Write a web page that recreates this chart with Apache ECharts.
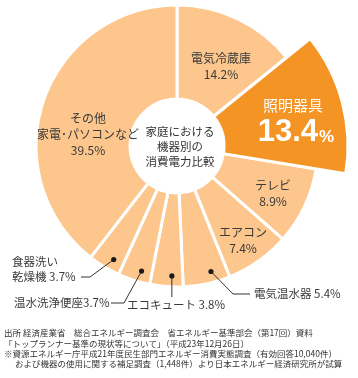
<!DOCTYPE html>
<html><head><meta charset="utf-8">
<script src="https://cdn.jsdelivr.net/npm/echarts@6/dist/echarts.min.js"></script>
<style>html,body{margin:0;padding:0;background:#fff}#c{width:358px;height:378px}</style>
</head><body><div id="c"></div>
<script>
// ---- data ----
const categories = ['電気冷蔵庫','照明器具','テレビ','エアコン','電気温水器','エコキュート','温水洗浄便座','食器洗い乾燥機','その他家電・パソコンなど'];
const values = [14.2, 13.4, 8.9, 7.4, 5.4, 3.8, 3.7, 3.7, 39.5];
const labelNames = ['電気冷蔵庫','照明器具','テレビ','エアコン','電気温水器','エコキュート','温水洗浄便座','食器洗い\n乾燥機','その他\n家電･パソコンなど'];
const highlightIndex = 1;
const centerTitle = ['家庭における','機器別の','消費電力比較'];
const footnotes = [
  '出所 経済産業省　総合エネルギー調査会　省エネルギー基準部会（第17回）資料',
  '「トップランナー基準の現状等について」（平成23年12月26日）',
  '※資源エネルギー庁平成21年度民生部門エネルギー消費実態調査（有効回答10,040件）',
  'および機器の使用に関する補足調査（1,448件）より日本エネルギー経済研究所が試算'
];

// ---- layout / style ----
const CX = 177, CY = 146, R_IN = 47, R_OUT = 141, R_HI = 171;
const LIGHT = '#FDC68C', DARK = '#F39425', TEXT = '#3a3a3a';
const FONT = '"Noto Sans CJK JP", sans-serif';
const NUMFONT = '"Liberation Sans", Arial, sans-serif';

const total = values.reduce((a, b) => a + b, 0);
const starts = []; let acc = 0;
values.forEach(v => { starts.push(acc / total * 360); acc += v; });
function pt(deg, r) { const a = deg * Math.PI / 180; return [CX + r * Math.sin(a), CY - r * Math.cos(a)]; }
function sliceAngle(i, frac) { return starts[i] + values[i] / total * 360 * frac; }
const pct = v => v.toFixed(1) + '%';

const graphics = [];
function addText(x, y, text, opts) {
  graphics.push({
    type: 'text', x: x, y: y, silent: true, z: 10,
    style: Object.assign({ text: text, fill: TEXT, font: '12px ' + FONT, textAlign: 'center', textVerticalAlign: 'middle' }, opts || {})
  });
}

// inside labels
const insideLabels = { 0: [221, 66], 2: [273, 193], 3: [243, 240], 8: [88, 134] };
Object.keys(insideLabels).forEach(k => {
  const i = +k, p = insideLabels[k];
  addText(p[0], p[1], labelNames[i] + '\n' + pct(values[i]), { lineHeight: 16 });
});

// highlighted label
addText(293, 105, labelNames[highlightIndex], { fill: '#fff', font: '15px ' + FONT });
graphics.push({
  type: 'text', x: 296, y: 132, silent: true, z: 10,
  style: {
    text: '{n|' + values[highlightIndex].toFixed(1) + '}{p|%}',
    textAlign: 'center', textVerticalAlign: 'middle',
    rich: {
      n: { fill: '#fff', font: 'bold 31px ' + NUMFONT, verticalAlign: 'bottom' },
      p: { fill: '#fff', font: 'bold 17px ' + NUMFONT, verticalAlign: 'bottom', padding: [0, 0, 2, 1] }
    }
  }
});

// outside labels with leader lines
const DOT_FRAC = 0.35, DOT_R = 130;
const outside = [
  { i: 7, text: labelNames[7] + ' ' + pct(values[7]), tx: 12, ty: 269.5, align: 'left', path: [[90, 277], [81, 277]] },
  { i: 6, text: labelNames[6] + pct(values[6]), tx: 14, ty: 303, align: 'left', path: [[124, 303], [111, 303]] },
  { i: 5, text: labelNames[5] + ' ' + pct(values[5]), tx: 176, ty: 305, align: 'center', path: 'down', downY: 297 },
  { i: 4, text: labelNames[4] + ' ' + pct(values[4]), tx: 254, ty: 294, align: 'left', path: [[233, 294], [250, 294]] }
];
outside.forEach(o => {
  const d = pt(sliceAngle(o.i, DOT_FRAC), DOT_R);
  const pts = o.path === 'down' ? [d, [d[0], o.downY]] : [d].concat(o.path);
  graphics.push({ type: 'polyline', silent: true, z: 9, shape: { points: pts }, style: { stroke: '#333', lineWidth: 1, fill: null } });
  graphics.push({ type: 'circle', silent: true, z: 11, shape: { cx: d[0], cy: d[1], r: 2.6 }, style: { fill: '#1a1a1a' } });
  addText(o.tx, o.ty, o.text, { textAlign: o.align, lineHeight: 15, font: '11.5px ' + FONT });
});

// center title
addText(180, 147, centerTitle.join('\n'), { font: '11.5px ' + FONT, lineHeight: 15, fill: '#333' });

// footnotes
const footX = [4, 4, 4, 15];
footnotes.forEach((t, k) => {
  addText(footX[k], 333 + k * 10.3, t, { textAlign: 'left', font: '8.5px ' + FONT, fill: '#333' });
});

const chart = echarts.init(document.getElementById('c'), null, { renderer: 'canvas' });
chart.setOption({
  animation: false,
  backgroundColor: '#fff',
  series: [
    {
      type: 'pie', center: [CX, CY], radius: [R_IN, R_OUT], startAngle: 90, clockwise: true,
      silent: true, avoidLabelOverlap: false, label: { show: false }, labelLine: { show: false },
      itemStyle: { borderColor: '#fff', borderWidth: 3 },
      data: categories.map((n, i) => ({ name: n, value: values[i], itemStyle: { color: i === highlightIndex ? 'rgba(0,0,0,0)' : LIGHT } }))
    },
    {
      type: 'pie', center: [CX, CY], radius: [R_IN, R_HI], startAngle: 90, clockwise: true,
      silent: true, avoidLabelOverlap: false, label: { show: false }, labelLine: { show: false },
      data: categories.map((n, i) => ({
        name: n, value: values[i],
        itemStyle: i === highlightIndex ? { color: DARK, borderColor: '#fff', borderWidth: 3 } : { color: 'rgba(0,0,0,0)', borderWidth: 0 }
      }))
    }
  ],
  graphic: graphics
});
</script></body></html>
